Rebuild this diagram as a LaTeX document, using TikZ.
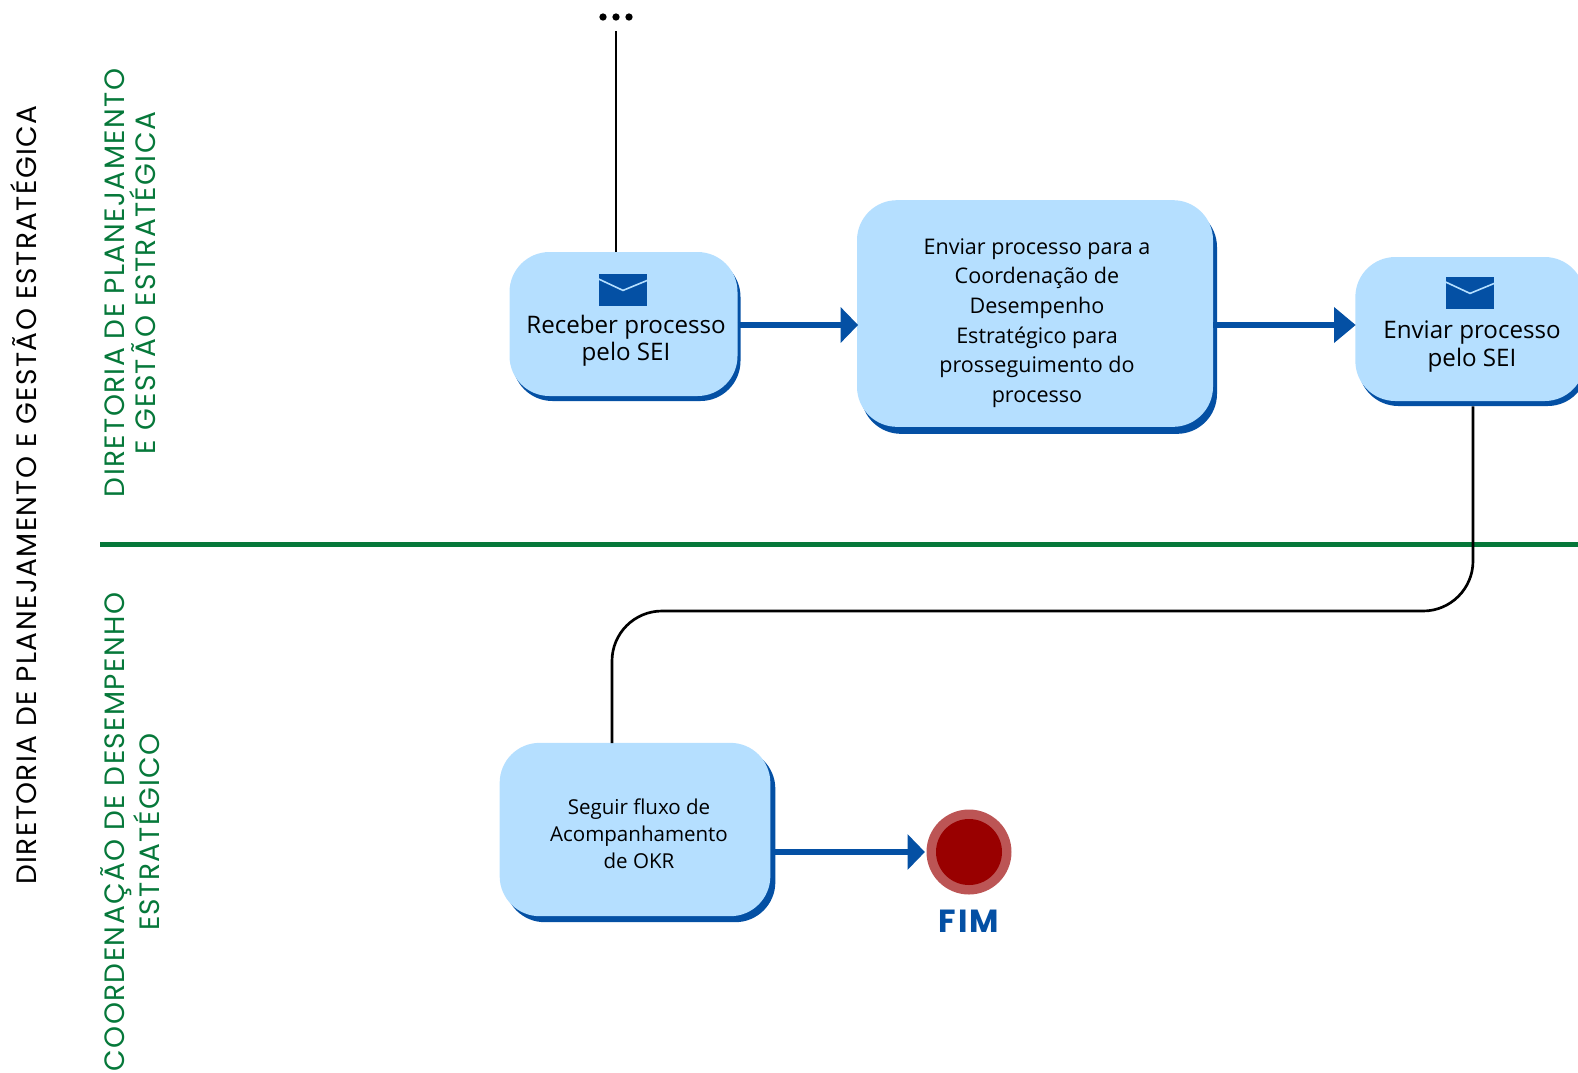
\documentclass[tikz,border=0pt]{standalone}
\usepackage{fontspec}
\setmainfont{Open Sans}
\newfontfamily\lanefont[LetterSpace=5]{Poppins}
\newfontfamily\fimfont[LetterSpace=6]{Poppins}
\usetikzlibrary{arrows.meta}
\definecolor{boxfill}{HTML}{B5DFFF}
\definecolor{boxblue}{HTML}{0450A4}
\definecolor{lanegreen}{HTML}{06783A}
\definecolor{endred}{HTML}{990000}
\definecolor{endring}{HTML}{BC5555}
\tikzset{
  x=0.75pt,y=-0.75pt,
  taskbox/.style={draw=none,fill=boxfill,rounded corners=30pt,inner sep=0pt,minimum width=#1},
  taskshadow/.style={draw=none,fill=boxblue,rounded corners=30pt,inner sep=0pt,minimum width=#1},
  tasktext/.style={align=center,text=black,inner sep=0pt,font=\fontsize{18.1}{20.4}\selectfont},
  midtext/.style={align=center,text=black,inner sep=0pt,font=\fontsize{16.15}{22.2}\selectfont},
  smalltext/.style={align=center,text=black,inner sep=0pt,font=\fontsize{15.4}{20.4}\selectfont},
  flow/.style={draw=boxblue,line width=4.2pt,-{Triangle[length=13pt,width=26pt,fill=boxblue]}},
  flowlong/.style={draw=boxblue,line width=4.2pt,-{Triangle[length=16.3pt,width=26pt,fill=boxblue]}},
  link/.style={draw=black,line width=2pt},
  lanelabel/.style={rotate=90,align=center,inner sep=0pt,text=lanegreen,font=\lanefont\fontsize{21}{23.6}\selectfont},
  envelope/.style={fill=boxblue,draw=none,inner sep=0pt,minimum width=36pt,minimum height=24pt},
  envflap/.style={draw=boxfill,line width=1.2pt},
  dotmark/.style={circle,fill=black,inner sep=0pt,minimum size=5.5pt}
}
\begin{document}
\begin{tikzpicture}
\useasboundingbox (0,0) rectangle (1578,1072);
\clip (0,0) rectangle (1578,1072);
% boxes
\node[taskshadow=171pt,minimum height=108pt] (s1) at (626.5,329) {};
\node[taskbox=171pt,minimum height=108pt] (b1) at (623.5,324) {};
\node[taskshadow=267pt,minimum height=170pt] (s2) at (1039,320.5) {};
\node[taskbox=267pt,minimum height=170pt] (b2) at (1035,313.5) {};
\node[taskshadow=172pt,minimum height=108pt] (s3) at (1473,334) {};
\node[taskbox=172pt,minimum height=108pt] (b3) at (1470,329) {};
\node[taskshadow=203pt,minimum height=130pt] (s4) at (640,835.5) {};
\node[taskbox=203pt,minimum height=130pt] (b4) at (635,829.5) {};
% end event
\node[circle,fill=endring,inner sep=0pt,minimum size=63.75pt] (endouter) at (969,852) {};
\node[circle,fill=endred,inner sep=0pt,minimum size=49.5pt] (endinner) at (969,852) {};
\node[inner sep=0pt,text=boxblue,font=\fimfont\fontsize{24}{26}\selectfont\bfseries] (fim) at (969,921) {FIM};
% envelopes
\node[envelope] (e1) at (623,290) {};
\draw[envflap] ([yshift=-4pt]e1.north west) -- ([yshift=-12.5pt]e1.north) -- ([yshift=-5pt]e1.north east);
\node[envelope] (e3) at (1470,293) {};
\draw[envflap] ([yshift=-4pt]e3.north west) -- ([yshift=-12.5pt]e3.north) -- ([yshift=-5pt]e3.north east);
% continuation dots
\node[dotmark] (d1) at (603,17) {};
\node[dotmark] (d2) at (616,17) {};
\node[dotmark] (d3) at (629,17) {};
\coordinate (topstart) at (616,31);
% lane divider
\coordinate (laneL) at (100,544.5);
\coordinate (laneR) at (1578,544.5);
\draw[draw=lanegreen,line width=3.75pt] (laneL) -- (laneR);
% connectors
\draw[link] (topstart) -- (topstart |- b1.north);
\draw[flow] ([yshift=-0.75pt]b1.east) -- ([yshift=-0.75pt,xshift=1pt]b2.west |- b1.east);
\draw[flowlong] ([yshift=3pt]b2.east |- b3.west) -- ([yshift=3pt,xshift=0.5pt]b3.west);
\draw[flow] (b4.east |- endouter.west) -- ([xshift=-1pt]endouter.west);
\draw[link,rounded corners=37.5pt] (s3.south -| 1473,0) -- (1473,611) -- (612,611) -- (612,743);
% labels
\node[tasktext] (t1) at (626,341) {Receber processo\\pelo SEI};
\node[midtext] (t2) at (1037,323) {Enviar processo para a\\Coordenação de\\Desempenho\\Estratégico para\\prosseguimento do\\processo};
\node[tasktext] (t3) at (1472,346.5) {Enviar processo\\pelo SEI};
\node[smalltext] (t4) at (639,834) {Seguir fluxo de\\Acompanhamento\\de OKR};
\node[rotate=90,inner sep=0pt,text=black,font=\lanefont\fontsize{21}{24}\selectfont] (main) at (24,495) {DIRETORIA DE PLANEJAMENTO E GESTÃO ESTRATÉGICA};
\node[lanelabel] (l1) at (130,283) {DIRETORIA DE PLANEJAMENTO\\E GESTÃO ESTRATÉGICA};
\node[lanelabel] (l2) at (130,832) {COORDENAÇÃO DE DESEMPENHO\\ESTRATÉGICO};
\end{tikzpicture}
\end{document}
